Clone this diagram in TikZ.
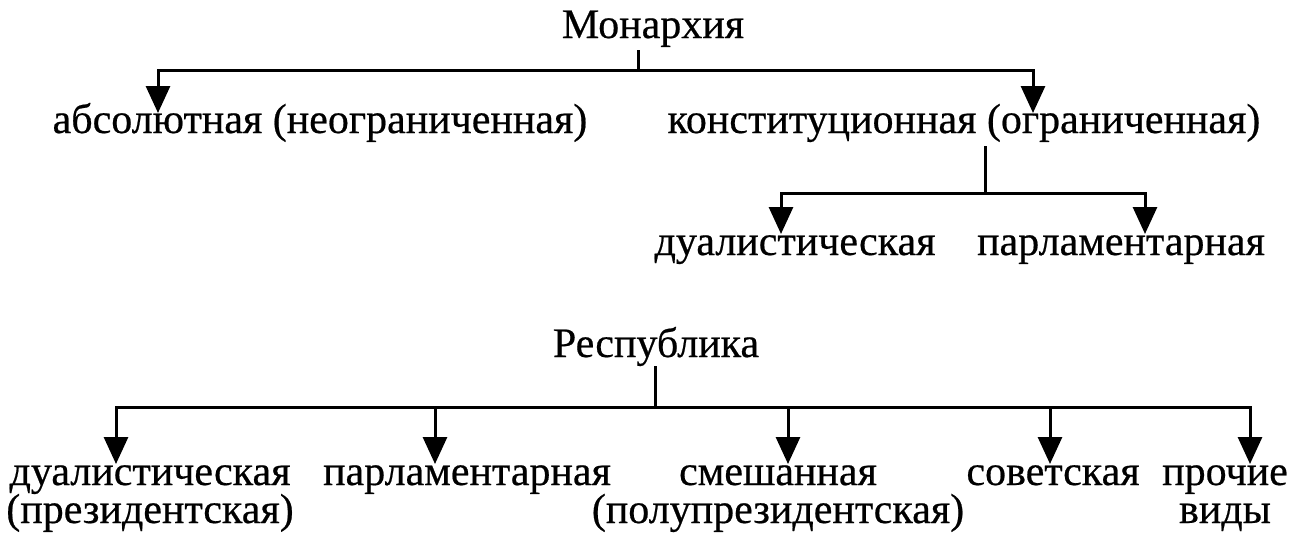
\documentclass[tikz,border=0pt]{standalone}
\usepackage{fontspec}
\setmainfont{Liberation Serif}[FakeBold=0.5]
\usetikzlibrary{arrows.meta}
\newcommand\lblfont{\fontsize{42}{38}\selectfont\lineskiplimit=-30pt\relax}
\begin{document}
\begin{tikzpicture}[x=1pt,y=-1pt,
  lbl/.style={font=\lblfont, inner sep=0pt, anchor=base, align=center},
  conn/.style={line width=3pt},
  arr/.style={line width=3pt, -{Triangle[width=24pt,length=27pt]}}]
\useasboundingbox (0,0) rectangle (1294,541);
% Monarchy
\node[lbl] (mon) at (653,38) {Монархия};
\node[lbl] (abs) at (320,133) {абсолютная (неограниченная)};
\node[lbl] (con) at (964,133) {конституционная (ограниченная)};
\node[lbl] (dua) at (795,255) {дуалистическая};
\node[lbl] (par) at (1121,255) {парламентарная};
\coordinate (j1) at (638,70);
\coordinate (t1) at (158,113);
\coordinate (t2) at (1033,113);
\draw[conn] ([yshift=-3pt]mon.south -| j1) -- (j1);
\draw[arr] (j1) -| (t1);
\draw[arr] (j1) -| (t2);
\coordinate (j2) at (985,193);
\coordinate (t3) at (781,234);
\coordinate (t4) at (1145,234);
\draw[conn] ([yshift=-4pt]con.south -| j2) -- (j2);
\draw[arr] (j2) -| (t3);
\draw[arr] (j2) -| (t4);
% Republic
\node[lbl] (rep) at (656,357) {Республика};
\node[lbl] (r1) at (150,523) {дуалистическая\\(президентская)};
\node[lbl] (r2) at (467,485) {парламентарная};
\node[lbl] (r3) at (778,523) {смешанная\\(полупрезидентская)};
\node[lbl] (r4) at (1053,485) {советская};
\node[lbl] (r5) at (1225,523) {прочие\\виды};
\coordinate (j3) at (655,407);
\coordinate (b1) at (116,464);
\coordinate (b2) at (435,464);
\coordinate (b3) at (788,464);
\coordinate (b4) at (1050,464);
\coordinate (b5) at (1250,464);
\draw[conn] (rep.south -| j3) -- (j3);
\draw[arr] (j3) -| (b1);
\draw[arr] (j3) -| (b2);
\draw[arr] (j3) -| (b3);
\draw[arr] (j3) -| (b4);
\draw[arr] (j3) -| (b5);
\end{tikzpicture}
\end{document}
